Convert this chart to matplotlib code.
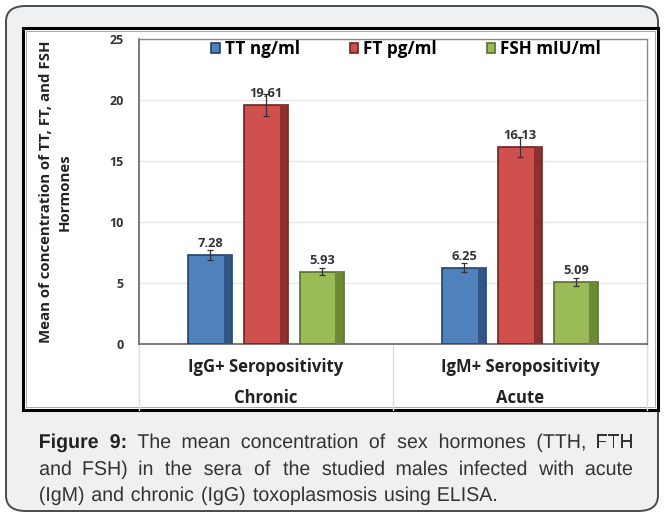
import matplotlib
matplotlib.use("Agg")
import matplotlib.pyplot as plt
from matplotlib.patches import FancyBboxPatch, Rectangle, PathPatch
from matplotlib.textpath import TextPath
from matplotlib.font_manager import FontProperties
from matplotlib.transforms import Affine2D, IdentityTransform
import numpy as np

# dados
grupos = ["IgG+ Seropositivity", "IgM+ Seropositivity"]
fases = ["Chronic", "Acute"]
series = ["TT ng/ml", "FT pg/ml", "FSH mIU/ml"]
tt = [7.28, 6.25]
ft = [19.61, 16.13]
fsh = [5.93, 5.09]
erro_tt = [0.40, 0.35]
erro_ft = [0.90, 0.80]
erro_fsh = [0.30, 0.30]

cores = ["#4f81bd", "#d0504d", "#9bbb59"]
bordas = ["#22426b", "#6e2220", "#56702a"]
sombras = ["#2f5687", "#8e302e", "#6c8a36"]

plt.rcParams['font.family'] = ['Open Sans', 'DejaVu Sans']

fig = plt.figure(figsize=(6.64, 5.17), dpi=100)
W, H = 664, 517

def fx(px):
    return px / W

def fy(py):
    return 1 - py / H

# caixa externa arredondada
fig.patches.append(FancyBboxPatch((fx(6), fy(511)), fx(652), 505 / H,
                                  boxstyle="round,pad=0,rounding_size=0.03",
                                  transform=fig.transFigure, facecolor="#eff0f2",
                                  edgecolor="#4a4a4a", linewidth=1.4, zorder=0))
# painel branco do grafico
fig.patches.append(Rectangle((fx(23), fy(410)), fx(635), 382 / H,
                             transform=fig.transFigure, facecolor="white",
                             edgecolor="black", linewidth=2.2, zorder=1))
fig.patches.append(Rectangle((fx(26), fy(407)), fx(629), 376 / H,
                             transform=fig.transFigure, facecolor="none",
                             edgecolor="#999999", linewidth=0.6, zorder=1))

ax = fig.add_axes([fx(139), fy(344), fx(508), 305 / H])
ax.set_zorder(2)

x = np.arange(len(grupos)) + 0.5
larg = 0.173
passo = 0.22
valores = [tt, ft, fsh]
erros = [erro_tt, erro_ft, erro_fsh]

for i, (vals, errs) in enumerate(zip(valores, erros)):
    pos = x + (i - 1) * passo
    ax.bar(pos, vals, width=larg, color=cores[i], edgecolor=bordas[i],
           linewidth=1.2, zorder=3, label=series[i])
    ax.bar(pos + larg / 2 - 0.018, vals, width=0.03, color=sombras[i],
           linewidth=0, zorder=3.5)
    ax.errorbar(pos, vals, yerr=errs, fmt="none", ecolor="#333333",
                elinewidth=0.9, capsize=2, capthick=0.9, zorder=5)
    for p, v in zip(pos, vals):
        ax.text(p, v + 0.4, f"{v:.2f}", ha="center", va="bottom",
                fontsize=9.3, fontweight="bold", color="#333333", zorder=4)

ax.set_xlim(0, 2)
ax.set_ylim(0, 25)
ax.set_yticks([0, 5, 10, 15, 20, 25])
ax.set_xticks([])
ax.tick_params(axis="y", length=0, pad=11, labelsize=9, labelcolor="#333333")
for lbl in ax.get_yticklabels():
    lbl.set_fontweight("bold")
ax.yaxis.grid(True, color="#e6e6e6", linewidth=1)
ax.set_axisbelow(True)
for lado in ["top", "right"]:
    ax.spines[lado].set_color("#8a8a8a")
    ax.spines[lado].set_linewidth(1.0)
for lado in ["left", "bottom"]:
    ax.spines[lado].set_color("#707070")
    ax.spines[lado].set_linewidth(1.3)

# tabela de categorias abaixo do eixo
for xv in [0, 1, 2]:
    ax.plot([xv, xv], [0, -0.216], transform=ax.get_xaxis_transform(),
            color="#dddddd", linewidth=1, clip_on=False, zorder=1)
for xi, g, f in zip(x, grupos, fases):
    ax.text(xi, -0.075, g, transform=ax.get_xaxis_transform(), ha="center",
            va="center", fontsize=12, fontweight="bold", color="#222222")
    ax.text(xi, -0.177, f, transform=ax.get_xaxis_transform(), ha="center",
            va="center", fontsize=12, fontweight="bold", color="#222222")

leg = ax.legend(loc="center", bbox_to_anchor=(0.526, 0.967), ncol=3,
                frameon=False, handlelength=0.5, handleheight=0.5,
                handletextpad=0.3, columnspacing=2.9,
                prop={"weight": "bold", "size": 12.3})

fig.text(fx(55), fy(192), "Mean of concentration of TT, FT, and FSH\nHormones",
         rotation=90, ha="center", va="center", fontsize=10.8, fontweight="bold",
         color="#222222", linespacing=1.45)

# legenda da figura: texto justificado
linhas = [
    "Figure 9: The mean concentration of sex hormones (TTH, FTH",
    "and FSH) in the sera of the studied males infected with acute",
    "(IgM) and chronic (IgG) toxoplasmosis using ELISA.",
]
base_linhas = [448, 475, 501]
x0, x1 = 40, 632
tam = 20
sx = 0.98
fp_reg = FontProperties(family="Liberation Sans", weight="normal")
fp_neg = FontProperties(family="Liberation Sans", weight="bold")

for n, (linha, yb) in enumerate(zip(linhas, base_linhas)):
    palavras = linha.split(" ")
    caminhos = []
    for k, p in enumerate(palavras):
        negrito = (n == 0 and k < 2)
        tp = TextPath((0, 0), p, size=tam, prop=fp_neg if negrito else fp_reg)
        ext = tp.get_extents()
        caminhos.append((tp, ext.x0 * sx, ext.width * sx, negrito))
    soma = sum(c[2] for c in caminhos)
    if n < len(linhas) - 1:
        gap = (x1 - x0 - soma) / (len(palavras) - 1)
    else:
        gap = 0.45 * tam * sx
    pos = x0
    for tp, off, w, negrito in caminhos:
        tr = Affine2D().scale(sx, 1).translate(pos - off, H - yb)
        patch = PathPatch(tr.transform_path(tp), transform=IdentityTransform(),
                          facecolor="#222222" if negrito else "#333333",
                          edgecolor="none", zorder=3)
        fig.add_artist(patch)
        pos += w + gap

fig.savefig("out.png", dpi=100)
